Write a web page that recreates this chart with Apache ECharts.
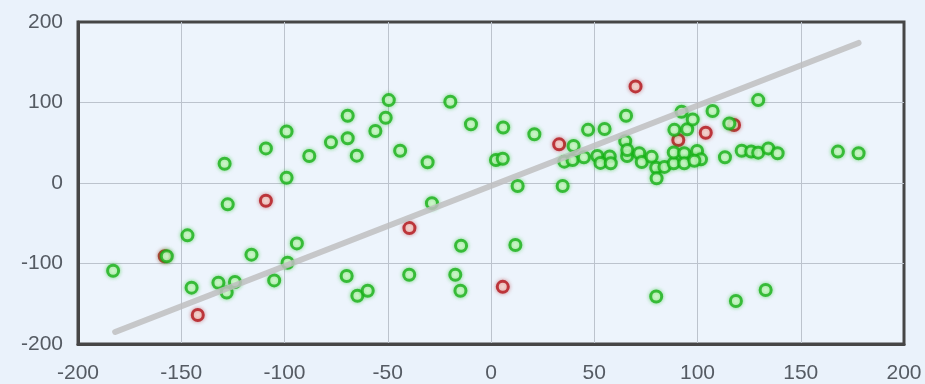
<!DOCTYPE html>
<html>
<head>
<meta charset="utf-8">
<script src="https://cdn.jsdelivr.net/npm/echarts@6/dist/echarts.min.js"></script>
<style>
html,body{margin:0;padding:0;background:#eaf2fb;}
#c{width:925px;height:384px;}
</style>
</head>
<body>
<div id="c"></div>
<script>
const xTicks = [-200, -150, -100, -50, 0, 50, 100, 150, 200];
const yTicks = [-200, -100, 0, 100, 200];

const greenPoints = [
  [-183,-109],[-157,-91],[-147,-65],[-145,-130],[-132,-124],[-128,-136],[-124,-123],[-116,-89],
  [-105,-121],[-98.5,-99],[-94,-75],[-129,24],[-127.5,-26.5],[-109,43],[-99,64],[-99,6.6],
  [-88,33.5],[-77.5,50.5],[-69.4,83.6],[-69.4,55.5],[-65,34],[-56,64.6],[-51,81],[-49.5,103],
  [-44,40],[-30.7,25.7],[-28.6,-25],[-19.7,101],[-9.7,73],[2.4,28.6],[5.7,30.2],[5.9,69],
  [21,60.5],[12.9,-3.7],[-69.9,-115.5],[-64.7,-140],[-59.7,-133.8],[-39.6,-114],[-17.3,-114],
  [-14.8,-133.8],[-14.5,-78],[11.8,-77],[80,-141],[118.6,-146.6],[133,-133],
  [34.7,-3.7],[40,46],[47,66],[55,67],[65.4,83.6],[65,52],[35.5,26.5],[39.5,28.6],[45,31.9],
  [51.5,33.5],[57.5,33],[53,25],[58,24.5],[65.9,33.5],[66,41],[71.8,37],[73,26],[77.8,32.5],
  [80,19],[80.2,5.8],[84,20],[88.5,24.5],[88.5,38],[88.8,66],[93.6,37],[93.6,24.5],[95,66.7],
  [92.3,88.6],[97.7,79],[99.8,39.8],[101.7,29.4],[98.5,27.7],[107.3,89.4],[115.4,74],[113.3,32],
  [121.4,40],[126,39],[129.4,37.7],[134.3,43],[138.8,37],[129.4,103],[168,39],[178,37]
];

const redPoints = [
  [-158,-91],[-142,-164],[-109,-22],[-39.5,-56],[5.7,-129],[33,48],[70,120],[90.7,53.4],
  [104,62.5],[117.7,72]
];

const trendLine = [[-182,-185],[178,174]];

const chart = echarts.init(document.getElementById('c'), null, {renderer:'canvas'});
const labelStyle = {color:'#555b63', fontSize:21, fontFamily:'"Liberation Sans", Arial, sans-serif'};
const split = {show:true, showMinLine:false, showMaxLine:false, lineStyle:{color:'#bcc3cd', width:1}};
chart.setOption({
  backgroundColor:'#eaf2fb',
  animation:false,
  grid:{left:78, right:21, top:22, bottom:40, show:true, borderColor:'#464646', borderWidth:3, backgroundColor:'#edf4fc'},
  xAxis:{type:'value', min:-200, max:200, interval:50,
    axisLine:{show:true, onZero:false, lineStyle:{color:'#464646', width:3}}, axisTick:{show:false},
    splitLine:split,
    axisLabel:Object.assign({margin:19}, labelStyle)},
  yAxis:{type:'value', min:-200, max:200, interval:100,
    axisLine:{show:true, onZero:false, lineStyle:{color:'#464646', width:3}}, axisTick:{show:false},
    splitLine:split,
    axisLabel:Object.assign({margin:15}, labelStyle)},
  series:[
    {type:'scatter', data:redPoints, symbol:'circle', symbolSize:11, z:2,
      itemStyle:{color:'#fff1ea', borderColor:'#b3141a', borderWidth:3, shadowBlur:4, shadowColor:'rgba(170,0,0,0.45)'}},
    {type:'scatter', data:greenPoints, symbol:'circle', symbolSize:11, z:3,
      itemStyle:{color:'#ecffe6', borderColor:'#19b019', borderWidth:3, shadowBlur:4, shadowColor:'rgba(0,190,0,0.5)'}},
    {type:'line', data:trendLine, symbol:'none', z:4, silent:true,
      lineStyle:{color:'rgba(190,190,192,0.85)', width:6, cap:'round'}}
  ]
});
</script>
</body>
</html>
